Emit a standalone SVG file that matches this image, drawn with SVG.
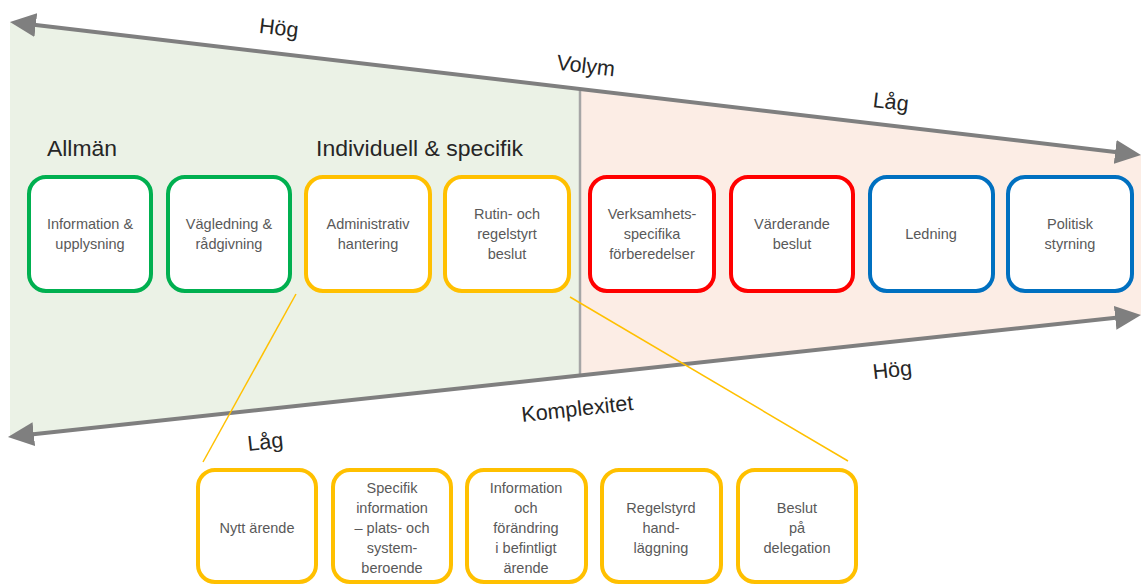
<svg xmlns="http://www.w3.org/2000/svg" width="1141" height="585" viewBox="0 0 1141 585">
<style>
.box{fill:#fff;stroke-width:4}
.g{stroke:#00B050}.y{stroke:#FFC000}.r{stroke:#FF0000}.b{stroke:#0070C0}
.bt{font-family:"Liberation Sans",Arial,sans-serif;font-size:14.5px;fill:#595959;text-anchor:middle}
.title{font-family:"Liberation Sans",Arial,sans-serif;font-size:22px;fill:#262626}
.ax{font-family:"Liberation Sans",Arial,sans-serif;font-size:21.5px;fill:#262626;text-anchor:middle}
.axis{stroke:#7F7F7F;stroke-width:4;fill:none;marker-start:url(#ah);marker-end:url(#ah)}
.conn{stroke:#FFC000;stroke-width:1.5;fill:none}
</style>
<defs>
<marker id="ah" markerUnits="userSpaceOnUse" markerWidth="28" markerHeight="24" refX="17" refY="12" orient="auto-start-reverse">
<path d="M0,0 L26,12 L0,24 z" fill="#7F7F7F"/>
</marker>
</defs>
<rect width="1141" height="585" fill="#fff"/>
<g id="background">
<polygon points="10,22 580,89 580,375.4 10,436.8" fill="#EBF2E6"/>
<polygon points="580,89 1141,155 1141,315 580,375.4" fill="#FCEDE5"/>
<line x1="580" y1="89" x2="580" y2="375.4" stroke="#A6A6A6" stroke-width="2.5"/>
</g>
<g id="connectors">
<path class="axis" d="M18.9,23 L1132.1,154"/>
<path class="axis" d="M16.9,436 L1132.1,316"/>
<line class="conn" x1="296" y1="294" x2="203" y2="462"/>
<line class="conn" x1="570" y1="297" x2="848" y2="461"/>
</g>
<g id="axis-labels">
<text class="ax" transform="translate(278,35) rotate(6.7)">Hög</text>
<text class="ax" transform="translate(585,73) rotate(6.7)">Volym</text>
<text class="ax" transform="translate(890,109) rotate(6.7)">Låg</text>
<text class="ax" transform="translate(893,377) rotate(-6.2)">Hög</text>
<text class="ax" transform="translate(578,416) rotate(-6.2)">Komplexitet</text>
<text class="ax" transform="translate(266,449) rotate(-6.2)">Låg</text>
</g>
<g id="titles">
<text class="title" x="47" y="156" textLength="70" lengthAdjust="spacingAndGlyphs">Allmän</text>
<text class="title" x="316" y="156" textLength="207" lengthAdjust="spacingAndGlyphs">Individuell &amp; specifik</text>
</g>
<g id="n1"><rect class="box g" x="29" y="177" width="122" height="114" rx="17"/>
<text class="bt"><tspan x="90" y="229">Information &amp;</tspan><tspan x="90" y="249">upplysning</tspan></text></g>
<g id="n2"><rect class="box g" x="168" y="177" width="122" height="114" rx="17"/>
<text class="bt"><tspan x="229" y="229">Vägledning &amp;</tspan><tspan x="229" y="249">rådgivning</tspan></text></g>
<g id="n3"><rect class="box y" x="306" y="177" width="124" height="114" rx="17"/>
<text class="bt"><tspan x="368" y="229">Administrativ</tspan><tspan x="368" y="249">hantering</tspan></text></g>
<g id="n4"><rect class="box y" x="445" y="177" width="124" height="114" rx="17"/>
<text class="bt"><tspan x="507" y="219">Rutin- och</tspan><tspan x="507" y="239">regelstyrt</tspan><tspan x="507" y="259">beslut</tspan></text></g>
<g id="n5"><rect class="box r" x="590" y="177" width="124" height="114" rx="17"/>
<text class="bt"><tspan x="652" y="219">Verksamhets-</tspan><tspan x="652" y="239">specifika</tspan><tspan x="652" y="259">förberedelser</tspan></text></g>
<g id="n6"><rect class="box r" x="731" y="177" width="122" height="114" rx="17"/>
<text class="bt"><tspan x="792" y="229">Värderande</tspan><tspan x="792" y="249">beslut</tspan></text></g>
<g id="n7"><rect class="box b" x="870" y="177" width="123" height="114" rx="17"/>
<text class="bt"><tspan x="931" y="239">Ledning</tspan></text></g>
<g id="n8"><rect class="box b" x="1008" y="177" width="124" height="114" rx="17"/>
<text class="bt"><tspan x="1070" y="229">Politisk</tspan><tspan x="1070" y="249">styrning</tspan></text></g>
<g id="s1"><rect class="box y" x="198" y="470" width="118" height="112" rx="17"/>
<text class="bt"><tspan x="257" y="533">Nytt ärende</tspan></text></g>
<g id="s2"><rect class="box y" x="333" y="470" width="118" height="112" rx="17"/>
<text class="bt"><tspan x="392" y="493">Specifik</tspan><tspan x="392" y="513">information</tspan><tspan x="392" y="533">– plats- och</tspan><tspan x="392" y="553">system-</tspan><tspan x="392" y="573">beroende</tspan></text></g>
<g id="s3"><rect class="box y" x="467" y="470" width="119" height="112" rx="17"/>
<text class="bt"><tspan x="526" y="493">Information</tspan><tspan x="526" y="513">och</tspan><tspan x="526" y="533">förändring</tspan><tspan x="526" y="553">i befintligt</tspan><tspan x="526" y="573">ärende</tspan></text></g>
<g id="s4"><rect class="box y" x="602" y="470" width="119" height="112" rx="17"/>
<text class="bt"><tspan x="661" y="513">Regelstyrd</tspan><tspan x="661" y="533">hand-</tspan><tspan x="661" y="553">läggning</tspan></text></g>
<g id="s5"><rect class="box y" x="738" y="470" width="118" height="112" rx="17"/>
<text class="bt"><tspan x="797" y="513">Beslut</tspan><tspan x="797" y="533">på</tspan><tspan x="797" y="553">delegation</tspan></text></g>
</svg>
